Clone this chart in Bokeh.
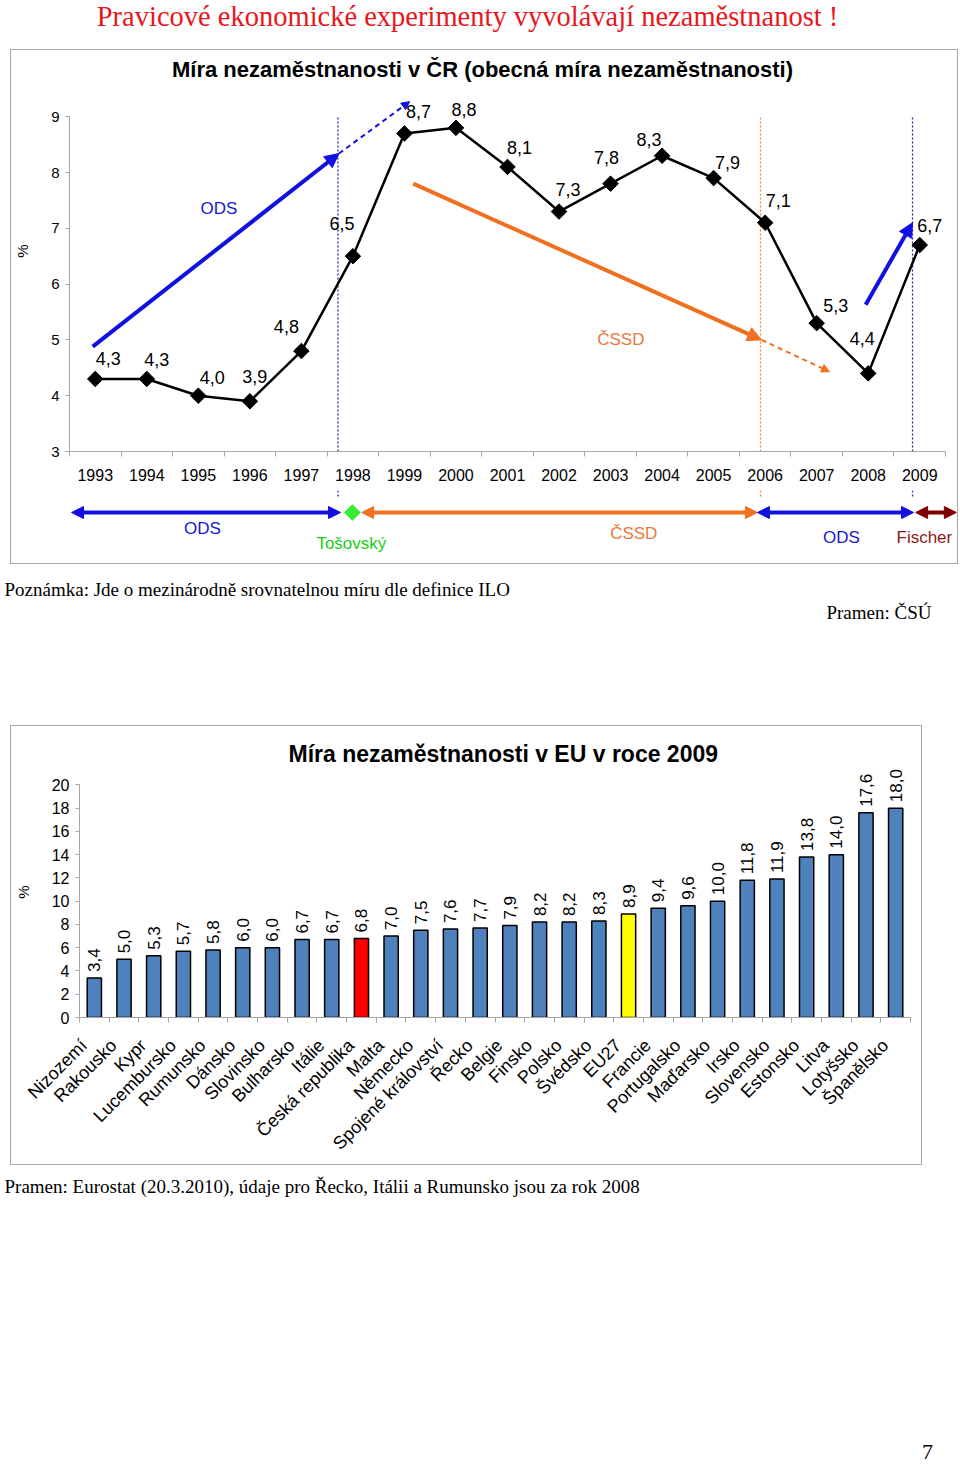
import math
from bokeh.plotting import figure
from bokeh.models import Range1d, FixedTicker, Arrow, NormalHead
from bokeh.layouts import column
from bokeh.core.properties import value
from bokeh.embed import file_html
from bokeh.resources import INLINE

# ---------------- data ----------------
years = list(range(1993, 2010))
rate_cz = [4.3, 4.3, 4.0, 3.9, 4.8, 6.5, 8.7, 8.8, 8.1, 7.3, 7.8, 8.3, 7.9, 7.1, 5.3, 4.4, 6.7]
# label offsets (screen px) for the data labels of the CR series
label_dx = [13, 10, 14, 5, -15, -11, 14, 8, 12, 9, -4, -13, 14, 13, 19, -6, 10]
label_dy = [-20, -19, -18, -25, -25, -33, -22, -18, -19, -22, -26, -16, -16, -22, -18, -35, -20]

countries = ["Nizozemí", "Rakousko", "Kypr", "Lucembursko", "Rumunsko", "Dánsko", "Slovinsko",
             "Bulharsko", "Itálie", "Česká republika", "Malta", "Německo", "Spojené království",
             "Řecko", "Belgie", "Finsko", "Polsko", "Švédsko", "EU27", "Francie", "Portugalsko",
             "Maďarsko", "Irsko", "Slovensko", "Estonsko", "Litva", "Lotyšsko", "Španělsko"]
rate_eu = [3.4, 5.0, 5.3, 5.7, 5.8, 6.0, 6.0, 6.7, 6.7, 6.8, 7.0, 7.5, 7.6, 7.7, 7.9, 8.2, 8.2,
           8.3, 8.9, 9.4, 9.6, 10.0, 11.8, 11.9, 13.8, 14.0, 17.6, 18.0]
highlight = {"Česká republika": "#ff0000", "EU27": "#ffff00"}

# government periods shown in the band under the CR chart
gov_names = ["ODS", "Tošovský", "ČSSD", "ODS", "Fischer"]
gov_start = [1992.54, 1997.99, 1998.17, 2005.85, 2008.92]
gov_end = [1997.76, 1997.99, 2005.85, 2008.88, 2009.71]
gov_label_x = [1995.08, 1997.97, 2003.45, 2007.48, 2009.09]
gov_colors = ["#1010e0", "#33ee33", "#f07020", "#1010e0", "#800000"]
gov_text_colors = ["#1818d0", "#22cc22", "#e8793a", "#1818d0", "#8b1a1a"]
gov_change = [1997.71, 2005.91, 2008.86]
gov_change_colors = ["#2a2aa0", "#e0903f", "#2a2aa0"]

# trend arrows drawn over the CR chart
trend_solid = [((1992.95, 4.88), (1997.73, 8.34), "#1010e0"),
               ((1999.17, 7.80), (2005.93, 5.00), "#f07020"),
               ((2007.95, 5.63), (2008.86, 7.10), "#1010e0")]
trend_dashed = [((1997.73, 8.34), (1999.10, 9.27), "#1010e0"),
                ((2005.93, 5.00), (2007.25, 4.43), "#f07020")]
trend_labels = [("ODS", 1995.4, 7.35, "#1818d0"), ("ČSSD", 2003.2, 5.0, "#e8793a")]

SANS = "Liberation Sans"
SERIF = "Liberation Serif"
AXIS_GREY = "#a6a6a6"


def fmt(v):
    return f"{v:.1f}".replace(".", ",")


def blank_fig(w, h):
    p = figure(width=w, height=h, x_range=Range1d(0, w), y_range=Range1d(h, 0),
               output_backend="svg", toolbar_location=None,
               x_axis_location=None, y_axis_location=None, min_border=0)
    p.xgrid.visible = False
    p.ygrid.visible = False
    p.outline_line_color = None
    return p


def style_axes(p, xfont, yfont):
    for ax in (p.xaxis, p.yaxis):
        ax.major_label_text_font = SANS
        ax.major_label_text_color = "black"
        ax.axis_line_color = AXIS_GREY
        ax.major_tick_line_color = AXIS_GREY
        ax.minor_tick_line_color = AXIS_GREY
    p.xaxis.major_label_text_font_size = xfont
    p.yaxis.major_label_text_font_size = yfont
    p.xaxis.major_tick_in = 0
    p.xaxis.major_tick_out = 0
    p.xaxis.minor_tick_in = 0
    p.xaxis.minor_tick_out = 5
    p.yaxis.major_tick_in = 0
    p.yaxis.major_tick_out = 4
    p.yaxis.minor_tick_in = 0
    p.yaxis.minor_tick_out = 0
    p.yaxis.axis_label = "%"
    p.yaxis.axis_label_text_font = SANS
    p.yaxis.axis_label_text_color = "black"
    p.yaxis.axis_label_text_font_style = "normal"
    p.yaxis.axis_label_text_font_size = "15px"
    p.yaxis.axis_label_standoff = 17
    p.xgrid.visible = False
    p.ygrid.visible = False
    p.outline_line_color = None
    p.title.text_font = SANS
    p.title.text_color = "black"
    p.title.text_font_style = "bold"
    p.title.align = "left"


# ---------------- header ----------------
head = blank_fig(960, 49)
head.text(x=[467], y=[16], text=["Pravicové ekonomické experimenty vyvolávají nezaměstnanost !"],
          text_font=value(SERIF), text_font_size="28.5px", text_color="#e8161d",
          text_align="center", text_baseline="middle")

# ---------------- chart 1 : CR ----------------
W1 = 946
ML = 58                      # left border of the CR plot (px)
X0, X1 = 1992.5, 2009.5      # extent of the category axis
PPY = 876 / (X1 - X0)        # px per year on the category axis
Y_PX = 55.8                  # px per percentage point
HA, MB = 440, 39
XR = X0 + (W1 - ML) / PPY    # frame runs to the box edge (for the band arrows)
YT = 3 + (HA - MB) / Y_PX    # frame reaches the top of the box (title inside)
x_shared = Range1d(X0, XR)

pA = figure(width=W1, height=HA, x_range=x_shared, y_range=Range1d(3, YT),
            output_backend="svg", toolbar_location=None,
            min_border_left=ML, min_border_right=0, min_border_top=0, min_border_bottom=MB)
style_axes(pA, "16px", "15px")
pA.title.text = ""
pA.title.standoff = 0

pA.xaxis.ticker = FixedTicker(ticks=years, minor_ticks=[y - 0.5 for y in years] + [years[-1] + 0.5])
pA.xaxis.bounds = (X0, X1)
pA.xaxis.major_label_standoff = 12
pA.yaxis.ticker = FixedTicker(ticks=[3, 4, 5, 6, 7, 8, 9], minor_ticks=[])
pA.yaxis.bounds = (3, 9)
pA.yaxis.major_label_standoff = 6

# chart title, placed inside the frame above the 9 % tick
pA.text(x=[X0 + (482 - 69) / PPY], y=[YT - 19 / Y_PX],
        text=["Míra nezaměstnanosti v ČR (obecná míra nezaměstnanosti)"],
        text_font=value(SANS), text_font_size="22px", text_font_style="bold", text_color="black",
        text_align="center", text_baseline="middle")

pA.segment(x0=gov_change, y0=[3] * 3, x1=gov_change, y1=[9] * 3,
           line_color=gov_change_colors, line_dash="2 2", line_width=1.3)

for (s, e, c) in trend_solid:
    pA.add_layout(Arrow(x_start=s[0], y_start=s[1], x_end=e[0], y_end=e[1],
                        line_color=c, line_width=4,
                        end=NormalHead(size=14, fill_color=c, line_color=c)))
for (s, e, c) in trend_dashed:
    pA.add_layout(Arrow(x_start=s[0], y_start=s[1], x_end=e[0], y_end=e[1],
                        line_color=c, line_width=2, line_dash="5 4",
                        end=NormalHead(size=8, fill_color=c, line_color=c)))
for (t, x, y, c) in trend_labels:
    pA.text(x=[x], y=[y], text=[t], text_color=c, text_font=value(SANS),
            text_font_size="17px", text_align="center", text_baseline="middle")

pA.line(years, rate_cz, line_color="black", line_width=2.5)
pA.scatter(years, rate_cz, marker="square", angle=math.pi / 4, size=11,
           fill_color="black", line_color="black")
pA.text(x=years, y=rate_cz, text=[fmt(v) for v in rate_cz], x_offset=label_dx, y_offset=label_dy,
        text_font=value(SANS), text_font_size="18px", text_color="black",
        text_align="center", text_baseline="middle")

# ---------------- band with government periods ----------------
HB = 73
pB = figure(width=W1, height=HB, x_range=x_shared, y_range=Range1d(HB, 0),
            output_backend="svg", toolbar_location=None,
            x_axis_location=None, y_axis_location=None,
            min_border_left=ML, min_border_right=0, min_border_top=0, min_border_bottom=0)
pB.xgrid.visible = False
pB.ygrid.visible = False
pB.outline_line_color = None
pB.segment(x0=gov_change, y0=[0] * 3, x1=gov_change, y1=[7] * 3,
           line_color=gov_change_colors, line_dash="2 2", line_width=1.3)
band_y = 22
label_y = [38, 53, 43, 47, 47]
for n, s, e, c, tc, lx, ly in zip(gov_names, gov_start, gov_end, gov_colors, gov_text_colors,
                                  gov_label_x, label_y):
    if e > s:
        pB.add_layout(Arrow(x_start=s, y_start=band_y, x_end=e, y_end=band_y,
                            line_color=c, line_width=4,
                            start=NormalHead(size=12, fill_color=c, line_color=c),
                            end=NormalHead(size=12, fill_color=c, line_color=c)))
    else:
        pB.scatter([s], [band_y], marker="square", angle=math.pi / 4, size=11,
                   fill_color=c, line_color=c)
    pB.text(x=[lx], y=[ly], text=[n], text_color=tc, text_font=value(SANS),
            text_font_size="17px", text_align="center", text_baseline="middle")

box1 = column(pA, pB, styles={"border": "1px solid #a6a6a6"}, margin=(0, 0, 0, 10))

# ---------------- notes ----------------
notes = blank_fig(960, 161)
notes.text(x=[4], y=[25], text=["Poznámka: Jde o mezinárodně srovnatelnou míru dle definice ILO"],
           text_font=value(SERIF), text_font_size="19px", text_color="black",
           text_align="left", text_baseline="middle")
notes.text(x=[931], y=[48], text=["Pramen: ČSÚ"],
           text_font=value(SERIF), text_font_size="19px", text_color="black",
           text_align="right", text_baseline="middle")

# ---------------- chart 2 : EU ----------------
W2 = 910
n = len(countries)
centers = [i + 0.5 for i in range(n)]
label_pos = [c - 0.35 for c in centers]   # rotated labels end slightly left of the bar
colors = [highlight.get(c, "#4f81bd") for c in countries]
pC = figure(width=W2, height=438, x_range=Range1d(0, n), y_range=Range1d(0, 21.58),
            output_backend="svg", toolbar_location=None,
            min_border_left=66, min_border_right=11, min_border_top=40, min_border_bottom=147)
pC.title.text = "Míra nezaměstnanosti v EU v roce 2009"
style_axes(pC, "18px", "16px")
pC.title.text_font_size = "23px"
pC.title.offset = 209
pC.title.standoff = 0

pC.xaxis.ticker = FixedTicker(ticks=label_pos, minor_ticks=list(range(n + 1)))
pC.xaxis.major_label_overrides = {c: name for c, name in zip(label_pos, countries)}
pC.xaxis.major_label_orientation = math.pi / 4
pC.xaxis.major_label_standoff = 20
pC.yaxis.ticker = FixedTicker(ticks=list(range(0, 21, 2)), minor_ticks=[])
pC.yaxis.bounds = (0, 20)
pC.yaxis.major_label_standoff = 6

pC.vbar(x=centers, top=rate_eu, width=0.48, fill_color=colors, line_color="black", line_width=1.5)
pC.text(x=centers, y=rate_eu, text=[fmt(v) for v in rate_eu], angle=math.pi / 2, y_offset=-6,
        text_font=value(SANS), text_font_size="17px", text_color="black",
        text_align="left", text_baseline="middle")

box2 = column(pC, styles={"border": "1px solid #a6a6a6"}, margin=(0, 0, 0, 10))

# ---------------- footer ----------------
foot = blank_fig(960, 300)
foot.text(x=[4], y=[21], text=["Pramen: Eurostat (20.3.2010), údaje pro Řecko, Itálii a Rumunsko jsou za rok 2008"],
          text_font=value(SERIF), text_font_size="19px", text_color="black",
          text_align="left", text_baseline="middle")
foot.text(x=[927], y=[286], text=["7"], text_font=value(SERIF), text_font_size="22px",
          text_color="black", text_align="center", text_baseline="middle")

layout = column(head, box1, notes, box2, foot)
open("out.html", "w").write(file_html(layout, INLINE))
